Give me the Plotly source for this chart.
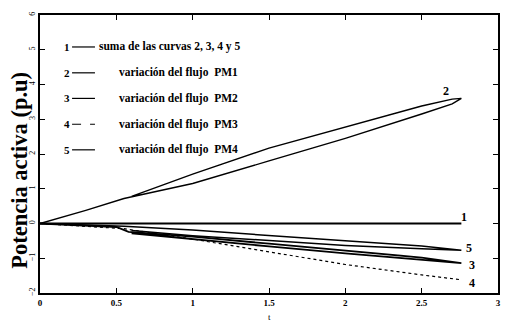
import plotly.graph_objects as go

# ---- data ----
t1 = [0, 0.5, 1.0, 1.5, 2.0, 2.5, 2.76]
p1 = [0, 0, 0, 0, 0, 0, 0]

t2 = [0, 0.3, 0.55, 1.0, 1.5, 2.0, 2.5, 2.7, 2.76, 2.7, 2.5, 2.0, 1.5, 1.0, 0.6]
p2 = [0, 0.38, 0.72, 1.15, 1.80, 2.45, 3.15, 3.44, 3.60, 3.58, 3.38, 2.78, 2.17, 1.42, 0.78]

t3 = [0, 0.5, 0.58, 1.0, 1.5, 2.0, 2.5, 2.76, 2.5, 2.0, 1.5, 1.0, 0.6]
p3 = [0, -0.10, -0.24, -0.38, -0.58, -0.78, -0.98, -1.14, -1.05, -0.86, -0.66, -0.44, -0.28]

t4 = [0, 0.55, 1.0, 1.5, 2.0, 2.5, 2.76]
p4 = [0, -0.15, -0.45, -0.82, -1.18, -1.48, -1.62]

t5 = [0, 0.55, 1.0, 1.5, 2.0, 2.5, 2.76, 2.5, 2.0, 1.5, 1.0, 0.6]
p5 = [0, -0.08, -0.19, -0.34, -0.49, -0.65, -0.77, -0.73, -0.63, -0.50, -0.35, -0.20]

curve_ids = ["1", "2", "3", "4", "5"]
legend_texts = [
    "suma de las curvas 2, 3, 4 y 5",
    "variación del flujo  PM1",
    "variación del flujo  PM2",
    "variación del flujo  PM3",
    "variación del flujo  PM4",
]
label_t = [2.78, 2.66, 2.83, 2.83, 2.81]
label_p = [0.2, 3.8, -1.18, -1.72, -0.71]

x_ticks = [0, 0.5, 1, 1.5, 2, 2.5, 3]
y_ticks = [-2, -1, 0, 1, 2, 3, 4, 5, 6]

y_title = "Potencia activa (p.u)"
x_title = "t"

# ---- figure ----
fig = go.Figure()
series = [(t1, p1, "solid", 2.0), (t2, p2, "solid", 1.4), (t3, p3, "solid", 1.8),
          (t4, p4, "dot", 1.2), (t5, p5, "solid", 1.5)]
for (tx, py, dash, w), cid in zip(series, curve_ids):
    fig.add_trace(go.Scatter(x=tx, y=py, mode="lines", name=cid,
                             line=dict(color="black", width=w, dash=dash),
                             showlegend=False))

serif = "Liberation Serif"
for cid, lx, ly in zip(curve_ids, label_t, label_p):
    fig.add_annotation(x=lx, y=ly, text="<b>" + cid + "</b>", showarrow=False,
                       font=dict(family=serif, size=12, color="black"))

# legend block (number, short line, text)
leg_y = [0.885, 0.792, 0.700, 0.607, 0.515]
leg_dash = ["solid", "solid", "solid", "dash", "solid"]
for cid, txt, yy, dsh in zip(curve_ids, legend_texts, leg_y, leg_dash):
    fig.add_annotation(xref="paper", yref="paper", x=0.058, y=yy, text="<b>" + cid + "</b>",
                       showarrow=False, xanchor="center", yanchor="middle",
                       font=dict(family=serif, size=11, color="black"))
    fig.add_shape(type="line", xref="paper", yref="paper", x0=0.07, x1=0.12, y0=yy, y1=yy,
                  line=dict(color="black", width=1.2, dash=dsh))
    fig.add_annotation(xref="paper", yref="paper",
                       x=(0.124 if cid == "1" else 0.168), y=yy, text="<b>" + txt + "</b>",
                       showarrow=False, xanchor="left", yanchor="middle",
                       font=dict(family=serif, size=11.5, color="black"))

fig.add_annotation(xref="paper", yref="paper", x=0.5, y=-0.087, text=x_title, showarrow=False,
                   yanchor="middle", font=dict(family=serif, size=9, color="black"))
fig.add_annotation(xref="paper", yref="paper", x=-0.0435, y=0.44, text="<b>" + y_title + "</b>",
                   showarrow=False, textangle=-90, xanchor="center", yanchor="middle",
                   font=dict(family=serif, size=22.5, color="black"))

fig.update_layout(
    width=513, height=324,
    margin=dict(l=40, r=13, t=12, b=31),
    paper_bgcolor="white", plot_bgcolor="white",
    font=dict(family=serif, color="black"),
)
fig.update_xaxes(range=[x_ticks[0], x_ticks[-1]], tickvals=x_ticks, showgrid=False,
                 zeroline=False, showline=True, linecolor="black", linewidth=1.5,
                 mirror="ticks", ticks="inside", ticklen=5, tickcolor="black",
                 tickfont=dict(family=serif, size=9, color="black", weight="bold"))
fig.update_yaxes(range=[y_ticks[0], y_ticks[-1]], tickvals=y_ticks, showgrid=False,
                 zeroline=False,
                 showline=True, linecolor="black", linewidth=1.5, mirror="ticks",
                 ticks="inside", ticklen=5, tickcolor="black", tickangle=-90,
                 tickfont=dict(family=serif, size=8, color="black"))

fig.write_html("out.html", config={"displayModeBar": False},
               post_script="document.body.style.margin='0';document.body.style.overflow='hidden';")
